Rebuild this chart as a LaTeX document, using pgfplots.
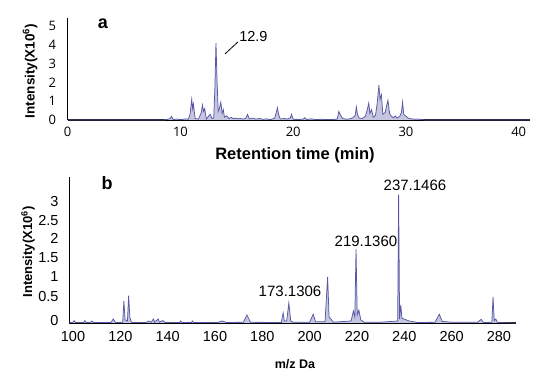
\documentclass[border=0pt]{standalone}
\usepackage{pgfplots}
\pgfplotsset{compat=1.18}
\usepackage{fontspec}
\setmainfont{Liberation Sans}
\newfontfamily\tickfont{Open Sans}
\definecolor{pk}{RGB}{88,88,165}
\begin{document}
\begin{tikzpicture}[x=1pt,y=1pt]
\path[use as bounding box] (0,0) rectangle (550,387);
% ---------- panel a ----------
\begin{axis}[
  at={(67.7pt,267pt)}, anchor=south west,
  scale only axis, width=462.3pt, height=102pt,
  xmin=0, xmax=41.0, ymin=0, ymax=5.42,
  axis x line*=bottom, axis y line*=left,
  x axis line style={line width=1.3pt, -},
  y axis line style={line width=0.9pt, -},
  major tick length=0pt,
  xtick={0,10,20,30,40}, ytick={0,1,2,3,4,5},
  /pgf/number format/assume math mode=true,
  tick label style={font=\tickfont\fontsize{13}{15}\selectfont},
  yticklabel style={xshift=-8pt},
  xticklabel style={yshift=-4pt},
  clip=false,
]
\addplot[draw=pk, fill=pk!35, line width=0.75pt] coordinates {
(0,0) (8.5,0) (8.9,0.04) (9.1,0.08) (9.2,0.2) (9.35,0.03) (9.7,0.05) (10.0,0.01) (10.4,0.06) (10.7,0.04)
(10.85,0.3) (11.0,1.1) (11.08,0.6) (11.15,0.85) (11.3,0.08) (11.6,0.05) (11.85,0.4) (11.95,0.8)
(12.05,0.45) (12.15,0.6) (12.3,0.05) (12.55,0.25) (12.65,0.3) (12.8,0.08) (12.95,0.1) (13.05,1.6)
(13.15,4.1) (13.25,2.0) (13.35,0.45) (13.45,0.6) (13.58,0.95) (13.7,0.35) (13.8,0.55) (13.9,0.15)
(14.1,0.22) (14.3,0.08) (14.5,0.14) (14.7,0.07) (14.9,0.1) (15.1,0.06) (15.3,0.08) (15.6,0.05)
(15.8,0.1) (15.95,0.3) (16.1,0.06) (16.4,0.1) (16.7,0.05) (17.0,0.08) (17.3,0.04) (17.6,0.06)
(18.0,0.02) (18.35,0.1) (18.5,0.4) (18.6,0.65) (18.7,0.3) (18.85,0.05) (19.2,0.08) (19.5,0.05)
(19.75,0.12) (19.85,0.3) (20.0,0.04) (20.5,0.03) (20.9,0.05) (21.0,0.12) (21.2,0.03) (21.6,0.06)
(22.0,0.02) (22.5,0.04) (23.0,0.02) (23.5,0.03) (23.9,0.05) (24.05,0.45) (24.2,0.25) (24.4,0.08)
(24.7,0.04) (25.0,0.06) (25.3,0.12) (25.5,0.25) (25.6,0.7) (25.7,0.3) (25.85,0.1) (26.1,0.08)
(26.4,0.2) (26.55,0.5) (26.7,0.9) (26.8,0.35) (26.95,0.55) (27.1,0.15) (27.3,0.25) (27.45,0.9)
(27.6,1.85) (27.7,1.1) (27.82,1.35) (27.95,0.3) (28.15,0.4) (28.3,0.8) (28.4,1.05) (28.55,0.35)
(28.7,0.2) (28.9,0.12) (29.05,0.22) (29.2,0.1) (29.45,0.2) (29.6,0.4) (29.7,0.95) (29.8,0.3)
(30.0,0.2) (30.2,0.1) (30.5,0.06) (30.8,0.04) (31.1,0.05) (31.4,0.02) (31.7,0) (41.0,0)
};
\draw[black, line width=0.8pt] (axis cs:13.95,3.51) -- (axis cs:15.1,4.15);
\node[anchor=west, inner sep=0pt, font=\fontsize{14.5}{16}\selectfont] at (axis cs:15.2,4.41) {12.9};
\node[font=\fontsize{18}{20}\selectfont\bfseries] at (axis cs:3.13,5.1) {a};
\end{axis}
\node[rotate=90, font=\fontsize{13.5}{15}\selectfont\bfseries] at (30,316) {Intensity(X10\textsuperscript{6})};
\node[font=\fontsize{16.5}{18}\selectfont\bfseries] at (295,232) {Retention time (min)};
% ---------- panel b ----------
\begin{axis}[
  at={(69pt,64pt)}, anchor=south west,
  scale only axis, width=447pt, height=146pt,
  xmin=98.3, xmax=287.2, ymin=0, ymax=3.64,
  axis x line*=bottom, axis y line*=left,
  x axis line style={line width=1.3pt, -},
  y axis line style={line width=0.9pt, -},
  major tick length=0pt,
  xtick={100,120,...,280},
  ytick={0.06,0.66,1.16,1.62,2.1,2.56,3.02},
  yticklabels={0,0.5,1,1.5,2,2.5,3},
  /pgf/number format/assume math mode=true,
  tick label style={font=\fontsize{14.5}{16}\selectfont},
  yticklabel style={xshift=-7pt},
  xticklabel style={yshift=-5pt},
  clip=false,
]
\addplot[draw=pk, fill=pk!35, line width=0.75pt] coordinates {
(98.3,0) (100,0.02) (100.5,0.06) (101,0.01) (104.5,0.01) (105,0.06) (105.5,0.01) (107.5,0.02) (108,0.05)
(108.5,0.01) (116,0.01) (117,0.1) (118,0.01) (121,0.02) (121.5,0.55) (122,0.08) (123,0.05) (123.5,0.68)
(124,0.15) (124.5,0.04) (125,0.01) (131,0.01) (132,0.05) (133,0.02) (134,0.1) (134.5,0.02) (136,0.1)
(136.5,0.02) (138,0.06) (139,0.01) (145,0.01) (145.5,0.05) (146,0.01) (150,0.01) (150.5,0.05) (151,0.01)
(161,0.01) (163,0.05) (165,0.01) (172,0.02) (173.5,0.2) (175,0.02) (188,0.01) (188.8,0.25) (189.3,0.05)
(190.3,0.05) (191.2,0.5) (192,0.05) (193,0.02) (200,0.02) (201.5,0.22) (202.5,0.03) (206.5,0.03)
(207.6,1.15) (208.2,0.15) (209,0.1) (210,0.02) (217.5,0.05) (218.5,0.3) (219.1,0.15) (219.6,1.84)
(220.1,0.2) (220.8,0.32) (221.6,0.08) (223,0.02) (230,0.02) (235,0.04) (237.2,0.05) (237.6,3.2)
(238.0,0.1) (238.5,0.45) (239,0.12) (242,0.05) (246,0.01) (253,0.02) (254.8,0.22) (256,0.04)
(260,0.02) (271,0.02) (272.5,0.09) (273.5,0.01) (277,0.02) (277.5,0.65) (278,0.06) (278.7,0.1)
(279.3,0.01) (287.2,0)
};
\node[font=\fontsize{15}{17}\selectfont] at (axis cs:244.5,3.42) {237.1466};
\node[font=\fontsize{15}{17}\selectfont] at (axis cs:223.8,2.03) {219.1360};
\node[font=\fontsize{15}{17}\selectfont] at (axis cs:191.7,0.78) {173.1306};
\node[font=\fontsize{18}{20}\selectfont\bfseries] at (axis cs:114.4,3.5) {b};
\end{axis}
\node[rotate=90, font=\fontsize{13}{15}\selectfont\bfseries] at (28,135) {Intensity(X10\textsuperscript{6})};
\node[font=\fontsize{12.5}{14}\selectfont\bfseries] at (295,23) {m/z Da};
\end{tikzpicture}
\end{document}
